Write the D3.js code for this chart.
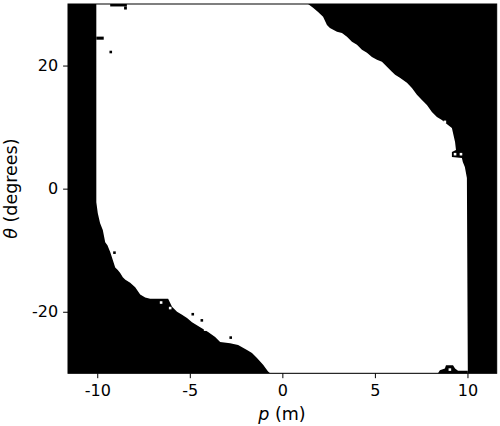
<!DOCTYPE html>
<html><head><meta charset="utf-8">
<script src="https://cdn.jsdelivr.net/npm/d3@7"></script>
<style>body{margin:0;background:#fff}text{font-family:"DejaVu Sans",sans-serif}</style>
</head><body><svg id="c" width="500" height="426"></svg>
<script>
// Region boundary (white = feasible)
const leftTheta = [30, -2.2, -4.0, -5.6, -6.7, -8.7, -9.2, -10.3, -11.6, -12.8, -13.2, -13.7, -14.4, -14.8, -15.3, -16.0, -17.2, -17.7, -17.9, -17.9, -19.2, -20.0, -20.5, -21.0, -21.7, -22.5, -23.3, -24.1, -24.9, -25.1, -25.4, -26.2, -26.7, -27.5, -28.6, -29.7, -30];
const leftP     = [-10.05, -10.05, -9.97, -9.85, -9.70, -9.57, -9.45, -9.30, -9.16, -9.03, -8.89, -8.76, -8.62, -8.48, -8.22, -7.95, -7.68, -7.41, -7.14, -6.17, -5.96, -5.69, -5.42, -5.15, -4.88, -4.44, -4.01, -3.63, -3.36, -2.82, -2.39, -1.91, -1.64, -1.37, -1.04, -0.77, -0.66];
const rightTheta = [30, 29.38, 28.72, 27.92, 26.6, 26.1, 25.48, 25.3, 24.66, 23.85, 23.37, 22.55, 22.08, 21.4, 20.93, 20.6, 19.8, 18.98, 18.5, 18.0, 17.2, 16.37, 15.24, 14.42, 13.6, 12.47, 11.66, 11.17, 10.36, 9.87, 9.06, 7.59, 6.29, 5.97, 5.15, 4.99, 4.34, 3.53, 1.74, -30];
const rightP     = [1.39, 1.66, 1.93, 2.20, 2.41, 2.57, 2.95, 3.22, 3.49, 3.76, 4.03, 4.30, 4.57, 4.84, 5.11, 5.38, 5.65, 5.92, 6.09, 6.35, 6.73, 7.00, 7.27, 7.54, 7.81, 8.08, 8.35, 8.62, 8.95, 9.16, 9.22, 9.33, 9.38, 9.16, 9.16, 9.70, 9.75, 9.86, 9.97, 10.02];
// black blob at bottom right
const blobP     = [8.41, 8.51, 8.78, 8.84, 9.22, 9.33, 9.49, 10.02, 10.02];
const blobTheta = [-30, -29.5, -29.2, -28.7, -28.7, -29.2, -29.6, -29.6, -30];
// small rectangular features [p0, p1, theta0, theta1], 1 = black, 0 = white
const rectP0 = [-9.30, -8.55, -10.05];
const rectP1 = [-8.40, -8.40, -9.65];
const rectT0 = [29.6, 29.1, 24.2];
const rectT1 = [30, 29.6, 24.7];
const rectVal = [1, 1, 1];
// isolated cells
const speckP     = [-9.27, -9.07, -6.55, -6.06, -4.84, -2.79, -4.17, -4.35, 8.78, 9.33, 9.65, 9.05];
const speckTheta = [22.2, -10.4, -18.5, -19.4, -20.4, -24.2, -22.9, -21.4, 10.85, 5.6, 5.6, -29.4];
const speckVal   = [1, 1, 0, 0, 1, 1, 0, 1, 0, 0, 0, 0];
const xTicks = [-10, -5, 0, 5, 10];
const yTicks = [-20, 0, 20];

const svg = d3.select("#c");
const L = 68, R = 496.7, T = 4, B = 373.3;
const x = d3.scaleLinear().domain([-11.58, 11.58]).range([L, R]);
const y = d3.scaleLinear().domain([-30, 30]).range([B, T]);
const g = svg.append("g");
g.append("rect").attr("x", L).attr("y", T).attr("width", R - L).attr("height", B - T).attr("fill", "#000");
const pts = leftP.map((p, i) => [p, leftTheta[i]])
  .concat(rightP.map((p, i) => [p, rightTheta[i]]).reverse());
const line = d3.line().x(d => x(d[0])).y(d => y(d[1]));
g.append("path").attr("d", line(pts) + "Z").attr("fill", "#fff");
g.append("path").attr("d", line(blobP.map((p, i) => [p, blobTheta[i]])) + "Z").attr("fill", "#000");
rectP0.forEach((p0, i) => {
  g.append("rect").attr("x", x(p0)).attr("y", y(rectT1[i]))
    .attr("width", x(rectP1[i]) - x(p0)).attr("height", y(rectT0[i]) - y(rectT1[i]))
    .attr("fill", rectVal[i] ? "#000" : "#fff");
});
const dp = 0.14, dt = 0.42;
speckP.forEach((p, i) => {
  g.append("rect").attr("x", x(p - dp / 2)).attr("y", y(speckTheta[i] + dt / 2))
    .attr("width", x(dp) - x(0)).attr("height", y(0) - y(dt))
    .attr("fill", speckVal[i] ? "#000" : "#fff");
});
// frame
svg.append("rect").attr("x", L).attr("y", T).attr("width", R - L).attr("height", B - T)
  .attr("fill", "none").attr("stroke", "#000").attr("stroke-width", 1);

const xa = svg.append("g").attr("transform", `translate(0,${B})`)
  .call(d3.axisBottom(x).tickValues(xTicks).tickSize(4.9).tickPadding(6).tickFormat(d => String(d)));
const ya = svg.append("g").attr("transform", `translate(${L},0)`)
  .call(d3.axisLeft(y).tickValues(yTicks).tickSize(4.9).tickPadding(5).tickFormat(d => String(d)));
[xa, ya].forEach(a => {
  a.select(".domain").remove();
  a.selectAll("text").attr("font-size", 16).attr("font-family", "DejaVu Sans").attr("fill", "#000");
  a.selectAll("line").attr("stroke", "#000").attr("stroke-width", 1);
});
const xl = svg.append("text").attr("x", 282).attr("y", 420).attr("text-anchor", "middle").attr("font-size", 17.5);
xl.append("tspan").attr("font-style", "italic").text("p");
xl.append("tspan").text(" (m)");
const yl = svg.append("text").attr("transform", `translate(17,${(T + B) / 2}) rotate(-90)`).attr("text-anchor", "middle").attr("font-size", 17.5);
yl.append("tspan").attr("font-style", "italic").text("θ");
yl.append("tspan").text(" (degrees)");
</script></body></html>
